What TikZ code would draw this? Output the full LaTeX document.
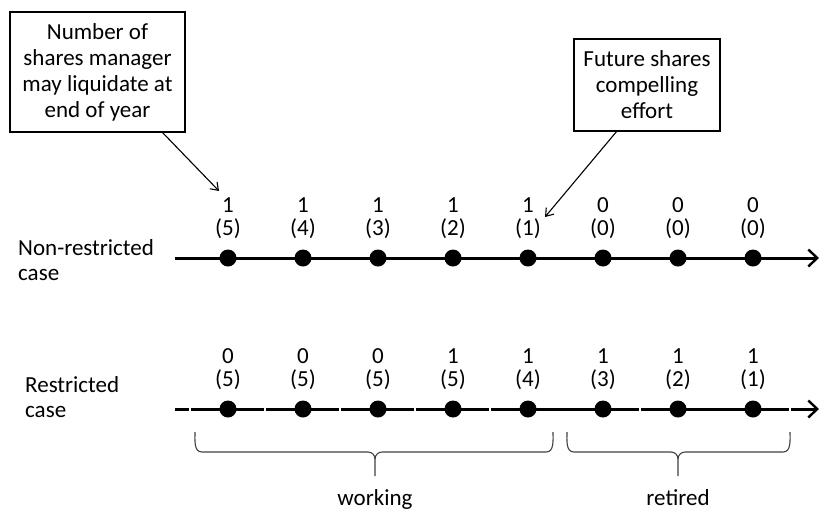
\documentclass[tikz,border=0pt]{standalone}
\usepackage{fontspec}
\setmainfont{Carlito}
\usetikzlibrary{arrows.meta}
\begin{document}
\begin{tikzpicture}[x=1pt,y=-1pt,
  font=\fontsize{23}{26}\selectfont,
  txt/.style={anchor=base, inner sep=0pt},
  infobox/.style={draw, line width=1.6pt, align=center, inner sep=0pt},
  dot/.style={circle, fill=black, inner sep=0pt, minimum size=17pt},
  axis/.style={line width=3pt},
  axisarrow/.style={line width=3pt, -{Straight Barb[length=9pt,width=17pt,line width=2.4pt]}},
  pointer/.style={line width=1.1pt, -{Straight Barb[length=7pt,width=10pt,line width=1.1pt]}},
  bracepath/.style={line width=1.1pt, draw=black!75}]
\useasboundingbox (0,0) rectangle (824,515);

% boxes
\node[infobox, minimum width=175pt, minimum height=120pt] (b1) at (97.5,72)
  {Number of\\shares manager\\may liquidate at\\end of year};
\node[infobox, minimum width=146pt, minimum height=92pt] (b2) at (647,85)
  {Future shares\\compelling\\effort};

% left labels
\node[txt, anchor=base west] (nr) at (18,255) {Non-restricted};
\node[txt, anchor=base west] (nrc) at (18,280) {case};
\node[txt, anchor=base west] (r) at (25,392) {Restricted};
\node[txt, anchor=base west] (rc) at (25,417) {case};

% top axis
\coordinate (ts) at (175,258);
\coordinate (te) at (819,258);
\draw[axisarrow] (ts) -- (te);
\foreach \i/\x/\a/\b in {1/228/1/5,2/303/1/4,3/378/1/3,4/453/1/2,5/528/1/1,6/603/0/0,7/678/0/0,8/753/0/0}{
  \node[dot] (t\i) at (\x,258) {};
  \node[txt] (ta\i) at (\x,212) {\a};
  \node[txt] (tb\i) at (\x,235) {(\b)};
}

% bottom axis (segmented)
\foreach \p/\q in {175/189,191/264,266/339,341/414,416/489,491/639,641/789}{
  \draw[axis] (\p,409) -- (\q,409);
}
\coordinate (bs) at (791,409);
\coordinate (be) at (819,409);
\draw[axisarrow] (bs) -- (be);
\foreach \i/\x/\a/\b in {1/228/0/5,2/303/0/5,3/378/0/5,4/453/1/5,5/528/1/4,6/603/1/3,7/678/1/2,8/753/1/1}{
  \node[dot] (d\i) at (\x,409) {};
  \node[txt] (da\i) at (\x,363) {\a};
  \node[txt] (db\i) at (\x,386) {(\b)};
}

% pointers
\coordinate (p1) at (219,191);
\coordinate (p2) at (545,217);
\draw[pointer] (162,132) -- (p1);
\draw[pointer] (617,131) -- (p2);

% braces
\draw[bracepath] (195,432) to[out=-90,in=180] (202,452) -- (368,452)
  to[out=0,in=90] (375,459) -- (375,476);
\draw[bracepath] (375,459) to[out=90,in=180] (382,452) -- (546,452)
  to[out=0,in=-90] (553,432);
\draw[bracepath] (567,432) to[out=-90,in=180] (574,452) -- (671,452)
  to[out=0,in=90] (678,459) -- (678,476);
\draw[bracepath] (678,459) to[out=90,in=180] (685,452) -- (783,452)
  to[out=0,in=-90] (790,432);
\node[txt] (w) at (375,505) {working};
\node[txt] (rt) at (678,505) {retired};
\end{tikzpicture}
\end{document}
